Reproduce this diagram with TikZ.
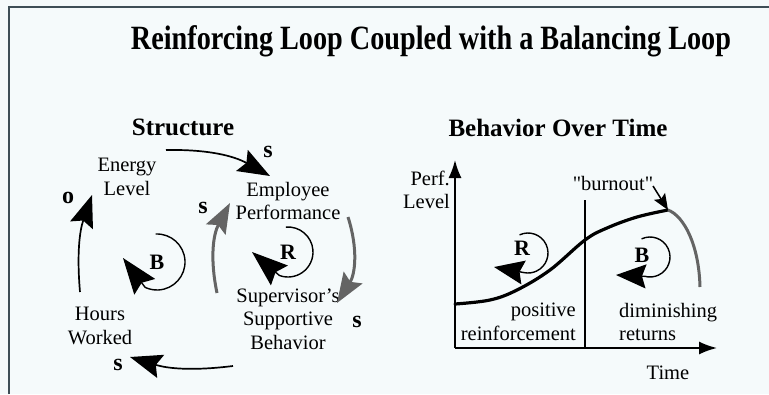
\documentclass[tikz,border=0pt]{standalone}
\usepackage{fontspec}
\setmainfont{Liberation Serif}
\newfontfamily\plainquotes{Liberation Serif}
\usetikzlibrary{arrows.meta}
\definecolor{paper}{RGB}{245,250,251}
\definecolor{framec}{RGB}{62,78,86}
\definecolor{hatch}{RGB}{100,100,100}

\begin{document}
\begin{tikzpicture}[x=1pt, y=1pt,
  heading/.style={font=\fontsize{25}{28}\selectfont\bfseries},
  varname/.style={align=center, inner sep=2pt, font=\fontsize{20.5}{23.5}\selectfont},
  sign/.style={font=\fontsize{24}{24}\selectfont\bfseries},
  looplbl/.style={font=\fontsize{22}{22}\selectfont\bfseries},
  link/.style={line width=1.7pt, -{Stealth[length=32pt, width=24pt, inset=5pt]}},
  grey link/.style={hatch, line width=3pt, -{Stealth[length=30pt, width=22pt, inset=5pt]}},
  loop arc/.style={line width=1.4pt, -{Stealth[length=36pt, width=26pt, inset=5pt]}},
  small loop/.style={line width=1.4pt, -{Stealth[length=30pt, width=24pt, inset=4pt]}},
  axis/.style={line width=1.8pt, -{Latex[length=18pt, width=13pt]}}]

% page and frame
\fill[paper] (0,0) rectangle (769,-394);
\useasboundingbox (0,0) rectangle (769,-394);
\draw[framec, line width=1.5pt] (9,-394) -- (9,-7) -- (769,-7);

% title
\node[anchor=base, xscale=0.83, font=\fontsize{34}{36}\selectfont\bfseries] (title) at (431,-49)
  {Reinforcing Loop Coupled with a Balancing Loop};

% ---- Structure ----
\node[heading, anchor=base] (structure) at (183,-135) {Structure};

\node[varname] (energy) at (127,-177) {Energy\\Level};
\node[varname] (employee) at (288,-201) {Employee\\Performance};
\node[varname] (hours) at (100,-326) {Hours\\Worked};
\node[varname] (supervisor) at (288,-319) {Supervisor's\\Supportive\\Behavior};

% links
\draw[link] ([shift={(39,27)}]energy.center) to[bend left=15] ([shift={(-18,25)}]employee.center);
\draw[link] ([shift={(-20,34)}]hours.center) to[bend left=12] ([shift={(-35,-18)}]energy.center);
\draw[link] ([shift={(-55,-47)}]supervisor.center) to[bend left=12] ([shift={(30,-31)}]hours.center);
\draw[grey link] ([shift={(-71,26)}]supervisor.center) to[bend left=20] ([shift={(-58,-2)}]employee.center);
\draw[grey link] ([shift={(60,-16)}]employee.center) to[bend left=25] ([shift={(49,16)}]supervisor.center);

% polarities
\node[sign] (s1) at (268,-152) {s};
\node[sign] (o1) at (68,-198) {o};
\node[sign] (s2) at (203,-208) {s};
\node[sign] (s3) at (357,-322) {s};
\node[sign] (s4) at (118,-365) {s};

% loop markers
\node[looplbl] (bloop) at (157,-262) {B};
\draw[loop arc] ([shift={(93:28)}]bloop.center) arc[start angle=93, end angle=-115, radius=28]
  -- ([shift={(-34,4)}]bloop.center);
\node[looplbl] (rloop) at (288,-252) {R};
\draw[loop arc] ([shift={(95:25)}]rloop.center) arc[start angle=95, end angle=-110, radius=25]
  -- ([shift={(-36,0)}]rloop.center);

% ---- Behavior over time ----
\node[heading, anchor=base] (behavior) at (558,-136) {Behavior Over Time};

\coordinate (origin) at (455,-348);
\draw[axis] (origin) -- (455,-160);
\draw[axis] (origin) -- (717,-348);
\draw[line width=1.3pt] (585,-200) -- (585,-348);

\node[varname, align=right, anchor=east] (perf) at (452,-190) {Perf.\\Level};
\node[varname, anchor=base] (time) at (668,-379) {Time};

% performance curve
\coordinate (peak) at (668,-210);
\draw[line width=3.2pt, line cap=round] plot[smooth, tension=0.6] coordinates
  {(455,-304) (490,-300) (517,-290) (550,-270) (585,-240) (607,-228) (637,-217) (668,-210)};
\draw[hatch, line width=3pt] (peak) .. controls (684,-216) and (699,-245) .. (700,-287);

\node[varname] (burnout) at (613,-183) {\plainquotes "burnout"};
\draw[line width=1.5pt, -{Stealth[length=16pt, width=13pt, inset=3pt]}]
  ([shift={(40,-3)}]burnout.center) -- (peak);

\node[looplbl] (rright) at (522,-248) {R};
\draw[small loop] ([shift={(6,-5)}]rright.center) ++(115:20) arc[start angle=115, end angle=-100, radius=20]
  -- ([shift={(-28,-19)}]rright.center);
\node[looplbl] (bright) at (642,-255) {B};
\draw[small loop] ([shift={(8,-2)}]bright.center) ++(115:20) arc[start angle=115, end angle=-105, radius=20]
  -- ([shift={(-26,-20)}]bright.center);

\node[varname, align=right, anchor=east] (positive) at (578,-322) {positive\\reinforcement};
\node[varname, align=left, anchor=west] (diminish) at (617,-322) {diminishing\\returns};

\end{tikzpicture}
\end{document}
